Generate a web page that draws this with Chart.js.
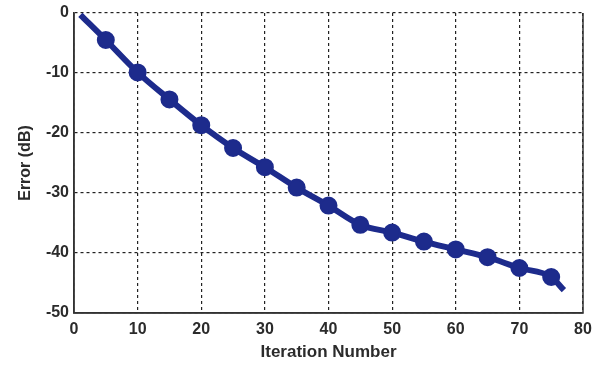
<!DOCTYPE html>
<html>
<head>
<meta charset="utf-8">
<script src="https://cdn.jsdelivr.net/npm/chart.js@4"></script>
<style>
  html, body { margin: 0; padding: 0; background: #fff; }
  #wrap { width: 602px; height: 366px; }
</style>
</head>
<body>
<div id="wrap"><canvas id="errorChart" width="602" height="366"></canvas></div>
<script>
// Iteraciones y error en dB (marcadores cada 5 iteraciones)
const iterations = [1, 5, 10, 15, 20, 25, 30, 35, 40, 45, 50, 55, 60, 65, 70, 75, 77];
const errorDb = [-0.3, -4.5, -9.9, -14.4, -18.7, -22.5, -25.7, -29.1, -32.1, -35.3, -36.6, -38.1, -39.4, -40.7, -42.5, -44.0, -46.2];
const xTicks = [0, 10, 20, 30, 40, 50, 60, 70, 80];
const yTicks = [0, -10, -20, -30, -40, -50];

const lineColor = "#1d2b8c";
const lastIdx = iterations.length - 1;

// Marco del área de dibujo: izquierda, abajo y derecha sólidos
const frame = {
    id: "frame",
    afterDatasetsDraw(chart) {
        const { ctx, chartArea: a } = chart;
        ctx.save();
        ctx.strokeStyle = "#333";
        ctx.lineWidth = 1.5;
        ctx.beginPath();
        ctx.moveTo(a.left, a.top);
        ctx.lineTo(a.left, a.bottom);
        ctx.lineTo(a.right, a.bottom);
        ctx.lineTo(a.right, a.top);
        ctx.stroke();
        ctx.restore();
    }
};

const font = { family: "Arial, 'Liberation Sans', sans-serif", weight: "bold", lineHeight: 1 };
const gridDash = { color: "#333", width: 1.5, dash: [3, 3] };

new Chart(document.getElementById("errorChart"), {
    type: "line",
    data: {
        datasets: [{
            data: iterations.map((x, i) => ({ x, y: errorDb[i] })),
            borderColor: lineColor,
            backgroundColor: lineColor,
            borderWidth: 6,
            cubicInterpolationMode: "monotone",
            pointRadius: ctx => (ctx.dataIndex === 0 || ctx.dataIndex === lastIdx) ? 0 : 8,
            pointBorderWidth: 2,
            pointBorderColor: lineColor,
            pointBackgroundColor: lineColor,
        }],
    },
    options: {
        responsive: false,
        animation: false,
        clip: false,
        layout: { padding: { top: 2, right: 19, left: 18, bottom: 0 } },
        plugins: { legend: { display: false }, tooltip: { enabled: false } },
        scales: {
            x: {
                type: "linear",
                min: 0,
                max: 80,
                afterBuildTicks: axis => { axis.ticks = xTicks.map(v => ({ value: v })); },
                afterFit: axis => { axis.height = 53; },
                grid: { color: "#222", lineWidth: 1.2, drawTicks: false },
                border: gridDash,
                ticks: { color: "#2b2b2b", font: { ...font, size: 16 }, padding: 9, maxRotation: 0 },
                title: { display: true, text: "Iteration Number", color: "#2b2b2b", font: { ...font, size: 17 }, padding: { top: 0, bottom: 5 } },
            },
            y: {
                min: -50,
                max: 0,
                afterBuildTicks: axis => { axis.ticks = yTicks.map(v => ({ value: v })); },
                afterFit: axis => { axis.width = 56; },
                grid: { color: "#222", lineWidth: 1.2, drawTicks: false },
                border: gridDash,
                ticks: { color: "#2b2b2b", font: { ...font, size: 16 }, padding: 5 },
                title: { display: true, text: "Error (dB)", color: "#2b2b2b", font: { ...font, size: 16 }, padding: { top: 0, bottom: 7 } },
            },
        },
    },
    plugins: [frame],
});
</script>
</body>
</html>
